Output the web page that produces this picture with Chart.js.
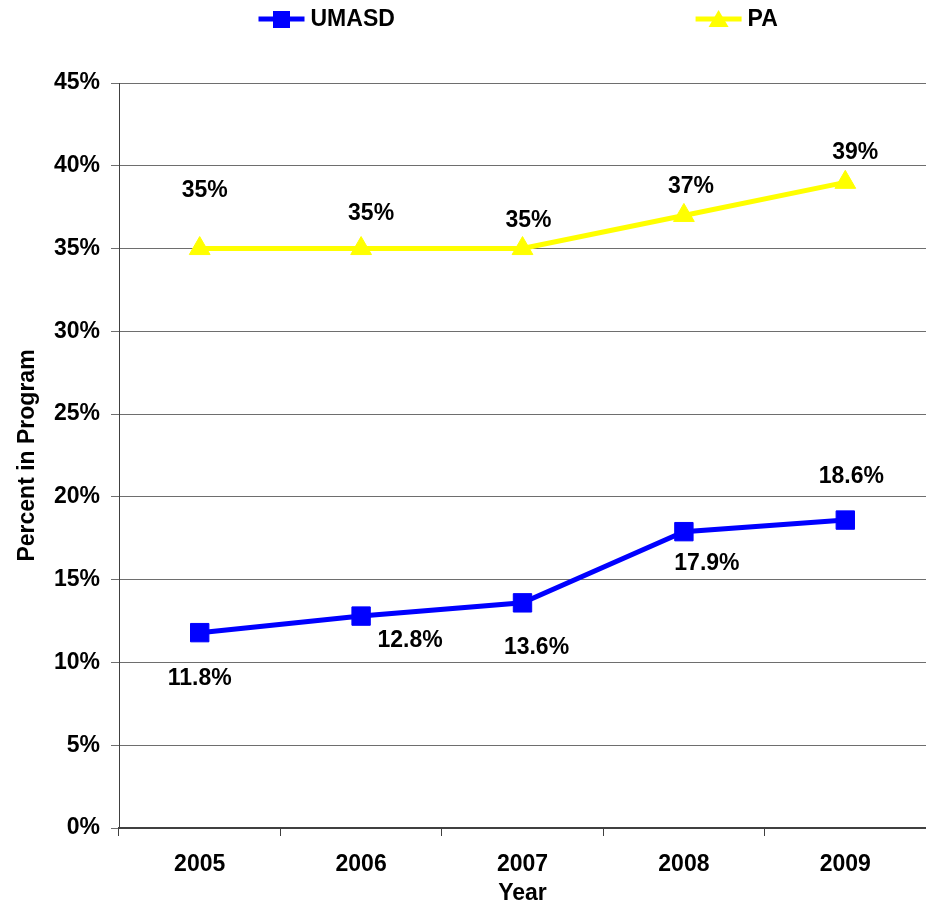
<!DOCTYPE html>
<html>
<head>
<meta charset="utf-8">
<title>Percent in Program - UMASD vs PA</title>
<script src="https://cdn.jsdelivr.net/npm/chart.js"></script>
<style>
  html, body { margin: 0; background: #fff; overflow: hidden; }
  .wrap { width: 926px; height: 904px; position: relative; }
  canvas { display: block; }
</style>
</head>
<body>
<div class="wrap"><canvas id="myChart"></canvas></div>
<script>
const years = ['2005', '2006', '2007', '2008', '2009'];
const umasd = [11.8, 12.8, 13.6, 17.9, 18.6];
const pa = [35, 35, 35, 37, 39];
const yMax = 45;
const yStep = 5;

// where each value label sits relative to its point (Excel had them moved by hand)
const umasdLabelOffsets = [[0, 46], [49, 25], [14, 45], [23, 32], [6, -43]];
const paLabelOffsets = [[5, -58], [10, -35], [6, -28], [7, -29], [10, -30]];

const FONT = '"Liberation Sans", Arial, sans-serif';
Chart.defaults.font.family = FONT;
Chart.defaults.color = '#000';

const ctx = document.getElementById('myChart');

// value labels next to the points
const valueLabels = {
  id: 'valueLabels',
  afterDatasetsDraw(chart) {
    const c = chart.ctx;
    c.save();
    c.font = 'bold 23px ' + FONT;
    c.fillStyle = '#000';
    c.textAlign = 'center';
    c.textBaseline = 'middle';
    chart.data.datasets.forEach((ds, i) => {
      const meta = chart.getDatasetMeta(i);
      meta.data.forEach((pt, j) => {
        const off = ds.labelOffsets[j];
        c.fillText(ds.data[j] + '%', pt.x + off[0], pt.y + off[1]);
      });
    });
    c.restore();
  },
};

// Excel style legend: line with marker, items spread far apart
const spreadLegend = {
  id: 'spreadLegend',
  afterDraw(chart) {
    const c = chart.ctx;
    const spots = [0.304, 0.776];
    const cy = 19;
    c.save();
    c.font = 'bold 23px ' + FONT;
    c.textBaseline = 'middle';
    c.textAlign = 'left';
    chart.data.datasets.forEach((ds, i) => {
      const cx = chart.width * spots[i];
      c.strokeStyle = ds.borderColor;
      c.lineWidth = 5;
      c.beginPath();
      c.moveTo(cx - 23, cy);
      c.lineTo(cx + 23, cy);
      c.stroke();
      c.fillStyle = ds.borderColor;
      c.beginPath();
      if (ds.pointStyle === 'triangle') {
        c.moveTo(cx, cy - 9);
        c.lineTo(cx + 10, cy + 8);
        c.lineTo(cx - 10, cy + 8);
        c.closePath();
      } else {
        c.rect(cx - 8.5, cy - 8, 17, 17);
      }
      c.fill();
      c.fillStyle = '#000';
      c.fillText(ds.label, cx + 29, cy + 1);
    });
    c.restore();
  },
};

new Chart(ctx, {
  type: 'line',
  data: {
    labels: years,
    datasets: [
      {
        label: 'UMASD',
        data: umasd,
        borderColor: '#0000ff',
        backgroundColor: '#0000ff',
        borderWidth: 5,
        pointStyle: 'rect',
        pointRadius: 13,
        pointBorderWidth: 1,
        pointHoverRadius: 13,
        tension: 0,
        labelOffsets: umasdLabelOffsets,
      },
      {
        label: 'PA',
        data: pa,
        borderColor: '#ffff00',
        backgroundColor: '#ffff00',
        borderWidth: 5,
        pointStyle: 'triangle',
        pointRadius: 12,
        pointBorderWidth: 1,
        pointHoverRadius: 12,
        tension: 0,
        labelOffsets: paLabelOffsets,
      },
    ],
  },
  options: {
    responsive: true,
    maintainAspectRatio: false,
    animation: false,
    layout: {
      autoPadding: false,
      padding: { top: 83, right: 0, bottom: 0, left: 0 },
    },
    plugins: {
      legend: { display: false },
      tooltip: { enabled: false },
    },
    scales: {
      x: {
        offset: true,
        grid: {
          offset: true,
          drawOnChartArea: false,
          tickLength: 8,
          color: '#404040',
        },
        border: { color: '#404040', width: 2 },
        ticks: {
          padding: 15,
          font: { size: 23, weight: 'bold' },
        },
        title: {
          display: true,
          text: 'Year',
          font: { size: 23, weight: 'bold' },
          padding: { top: 0, bottom: -3 },
        },
        afterFit(scale) {
          scale.height = 76;
          scale.paddingLeft = 0;
          scale.paddingRight = 0;
        },
      },
      y: {
        min: 0,
        max: yMax,
        grid: {
          color: '#6e6e6e',
          tickLength: 8,
        },
        border: { color: '#404040', width: 1 },
        ticks: {
          stepSize: yStep,
          padding: 11,
          font: { size: 23, weight: 'bold' },
          callback: (v) => v + '%',
        },
        title: {
          display: true,
          text: 'Percent in Program',
          font: { size: 23, weight: 'bold' },
          padding: { top: 14, bottom: 0 },
        },
        afterFit(scale) {
          scale.width = 119;
        },
      },
    },
  },
  plugins: [valueLabels, spreadLegend],
});
</script>
</body>
</html>
